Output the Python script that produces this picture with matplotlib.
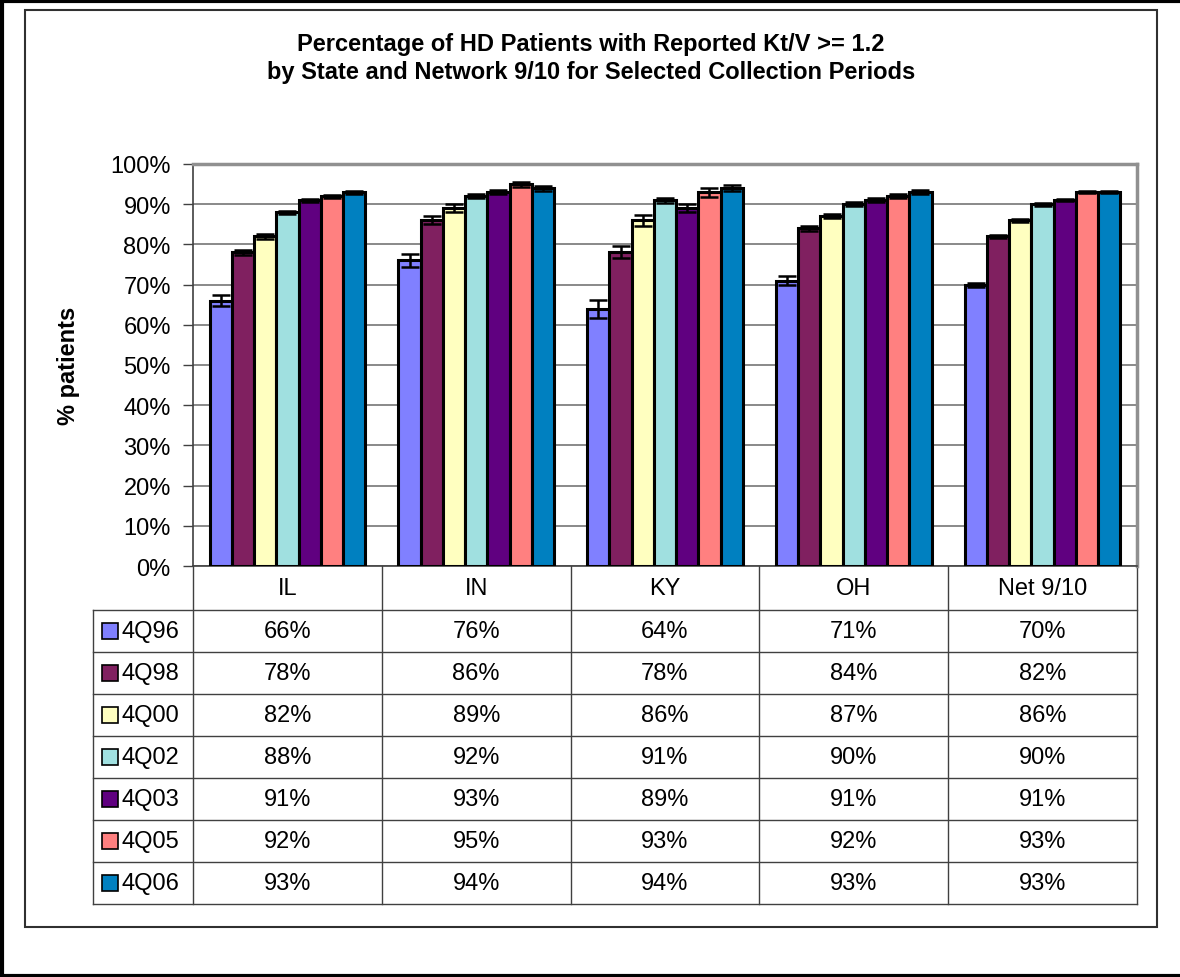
import numpy as np
import matplotlib
matplotlib.use("Agg")
import matplotlib.pyplot as plt
from matplotlib.lines import Line2D
from matplotlib.patches import Rectangle

plt.rcParams['font.family'] = ['Liberation Sans', 'DejaVu Sans']

STATES = ['IL', 'IN', 'KY', 'OH', 'Net 9/10']
PERIODS = ['4Q96', '4Q98', '4Q00', '4Q02', '4Q03', '4Q05', '4Q06']
COLORS = ['#8080FF', '#802060', '#FFFFC0', '#A0E0E0', '#600080', '#FF8080', '#0080C0']

# percent of patients, one list per collection period (IL, IN, KY, OH, Net 9/10)
q96 = [66, 76, 64, 71, 70]
q98 = [78, 86, 78, 84, 82]
q00 = [82, 89, 86, 87, 86]
q02 = [88, 92, 91, 90, 90]
q03 = [91, 93, 89, 91, 91]
q05 = [92, 95, 93, 92, 93]
q06 = [93, 94, 94, 93, 93]
VALUES = [q96, q98, q00, q02, q03, q05, q06]

# error bar half-widths (percentage points)
e96 = [1.3, 1.5, 2.2, 1.2, 0.5]
e98 = [0.7, 1.0, 1.5, 0.6, 0.4]
e00 = [0.6, 1.0, 1.3, 0.5, 0.4]
e02 = [0.4, 0.5, 0.6, 0.5, 0.4]
e03 = [0.4, 0.5, 1.0, 0.5, 0.3]
e05 = [0.4, 0.6, 1.1, 0.5, 0.3]
e06 = [0.4, 0.6, 0.7, 0.5, 0.3]
ERRS = [e96, e98, e00, e02, e03, e05, e06]

W, H = 1180, 978
fig = plt.figure(figsize=(W / 100, H / 100), dpi=100)

# overlay axes in pixel coordinates for frames and table
bg = fig.add_axes([0, 0, 1, 1])
bg.set_xlim(0, W)
bg.set_ylim(H, 0)
bg.axis('off')

# outer black border (top, left, bottom)
bg.add_line(Line2D([0, W], [1.5, 1.5], color='black', lw=3))
bg.add_line(Line2D([1.5, 1.5], [0, H], color='black', lw=3))
bg.add_line(Line2D([0, W], [H - 1.5, H - 1.5], color='black', lw=3))
# inner chart frame
bg.add_patch(Rectangle((25, 11), 1132, 917, fill=False, edgecolor='#303030', lw=1.5))

# plot area
L, R, T, B = 193, 1137, 165, 567
ax = fig.add_axes([L / W, 1 - B / H, (R - L) / W, (B - T) / H])
n = len(PERIODS)
bw = 1.0 / (n + 1.5)
x = np.arange(len(STATES))
for i, (p, vals, errs, c) in enumerate(zip(PERIODS, VALUES, ERRS, COLORS)):
    xs = x - 0.5 + bw * 0.75 + bw * (i + 0.5)
    ax.bar(xs, vals, width=bw, color=c, edgecolor='black', linewidth=2.2, zorder=3)
    ax.errorbar(xs, vals, yerr=errs, fmt='none', ecolor='black', elinewidth=1.8,
                capsize=6.8, capthick=1.8, zorder=4)

ax.set_xlim(-0.5, len(STATES) - 0.5)
ax.set_ylim(0, 100)
ax.set_yticks(np.arange(0, 101, 10))
ax.set_yticklabels([f'{v}%' for v in range(0, 101, 10)], fontsize=17)
ax.set_xticks([])
ax.yaxis.grid(True, color='#808080', lw=1.3, zorder=0)
ax.set_axisbelow(True)
ax.tick_params(axis='y', length=7, width=1, color='#404040', pad=9)
for s in ['top', 'right']:
    ax.spines[s].set_color('#909090')
    ax.spines[s].set_linewidth(2.5)
ax.spines['left'].set_color('#404040')
ax.spines['bottom'].set_color('#404040')
ax.spines['left'].set_linewidth(1.2)
ax.spines['bottom'].set_linewidth(1.2)
ax.set_ylabel('% patients', fontsize=17, fontweight='bold', labelpad=22)

fig.text(591 / W, 1 - 45 / H, 'Percentage of HD Patients with Reported Kt/V >= 1.2',
         ha='center', va='center', fontsize=17, fontweight='bold')
fig.text(591 / W, 1 - 73 / H, 'by State and Network 9/10 for Selected Collection Periods',
         ha='center', va='center', fontsize=17, fontweight='bold')

# data table under the plot
col_w = (R - L) / len(STATES)
row0 = B + 44
row_h = (905 - row0) / n
lc = '#404040'
for k in range(len(STATES) + 1):
    xx = L + k * col_w
    bg.add_line(Line2D([xx, xx], [B, 905], color=lc, lw=1))
bg.add_line(Line2D([93, 93], [row0, 905], color=lc, lw=1))
for r in range(n + 1):
    yy = row0 + r * row_h
    bg.add_line(Line2D([93, R], [yy, yy], color=lc, lw=1))
for k, st in enumerate(STATES):
    bg.text(L + (k + 0.5) * col_w, (B + row0) / 2, st, ha='center', va='center', fontsize=17)
for r, (p, vals, c) in enumerate(zip(PERIODS, VALUES, COLORS)):
    yc = row0 + (r + 0.5) * row_h
    bg.add_patch(Rectangle((102, yc - 8), 16, 16, facecolor=c, edgecolor='black', lw=1.2))
    bg.text(122, yc, p, ha='left', va='center', fontsize=17)
    for k, v in enumerate(vals):
        bg.text(L + (k + 0.5) * col_w, yc, f'{v}%', ha='center', va='center', fontsize=17)

fig.savefig('out.png', dpi=100)
